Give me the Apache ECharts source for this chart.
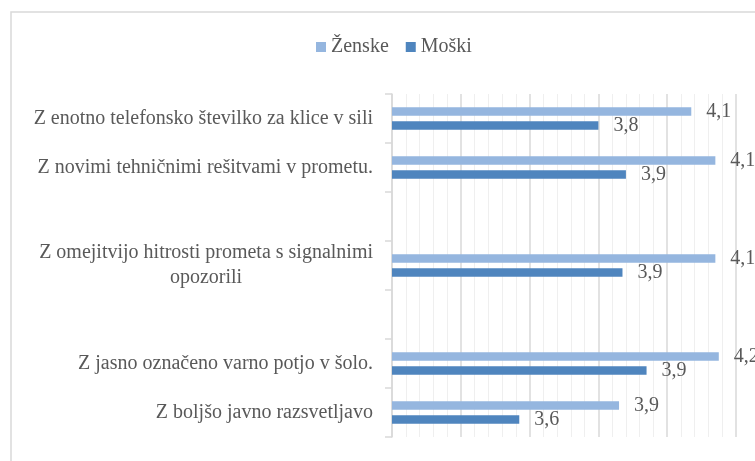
<!DOCTYPE html>
<html><head><meta charset="utf-8">
<script src="https://cdn.jsdelivr.net/npm/echarts@6/dist/echarts.min.js"></script>
<style>html,body{margin:0;padding:0;background:#fff}#c{width:755px;height:461px}</style>
</head><body><div id="c"></div>
<script>
const categories = [
  'Z enotno telefonsko številko za klice v sili',
  'Z novimi tehničnimi rešitvami v prometu.',
  '',
  'Z omejitvijo hitrosti prometa s signalnimi opozorili',
  '',
  'Z jasno označeno varno potjo v šolo.',
  'Z boljšo javno razsvetljavo'
];
const seriesNames = ['Ženske', 'Moški'];
const zenske = [4.07, 4.14, null, 4.14, null, 4.15, 3.86];
const moski = [3.80, 3.88, null, 3.87, null, 3.94, 3.57];

const FONT = '"Liberation Serif", "DejaVu Serif", serif';
const FS = 20;
const TXT = '#595959';
const MAXW = 365;

const ctx = document.createElement('canvas').getContext('2d');
ctx.font = FS + 'px ' + FONT;
function wrap(s) {
  if (ctx.measureText(s).width <= MAXW) return [s];
  const words = s.split(' ');
  const lines = [];
  let cur = '';
  words.forEach(w => {
    const t = cur ? cur + ' ' + w : w;
    if (ctx.measureText(t).width > MAXW && cur) { lines.push(cur); cur = w; }
    else cur = t;
  });
  if (cur) lines.push(cur);
  return lines;
}
let richW = 0;
categories.forEach(c => {
  const l = wrap(c);
  if (l.length > 1) l.forEach(x => { richW = Math.max(richW, ctx.measureText(x).width); });
});

const chart = echarts.init(document.getElementById('c'), null, {renderer: 'canvas'});
const fmt = v => (v == null ? '' : v.toFixed(1).replace('.', ','));

chart.setOption({
  animation: false,
  textStyle: {fontFamily: FONT},
  graphic: [{
    type: 'rect', left: 8.5, top: 9.5,
    shape: {x: 0, y: 0, width: 800, height: 500},
    style: {fill: 'none', stroke: '#d9d9d9', lineWidth: 1.5},
    silent: true
  }],
  legend: {
    data: seriesNames, top: 32, left: 311,
    icon: 'rect', itemWidth: 10, itemHeight: 10, itemGap: 17,
    textStyle: {fontSize: FS, color: TXT, fontFamily: FONT}
  },
  grid: {left: 392, right: 19, top: 94, bottom: 24, containLabel: false},
  xAxis: {
    type: 'value', min: 3.2, max: 4.2, interval: 0.2,
    axisLabel: {show: false}, axisLine: {show: false}, axisTick: {show: false},
    splitLine: {show: true, lineStyle: {color: '#d9d9d9', width: 1.5}},
    minorTick: {show: false, splitNumber: 5},
    minorSplitLine: {show: true, lineStyle: {color: '#efefef', width: 1}}
  },
  yAxis: {
    type: 'category', inverse: true, data: categories,
    axisLine: {show: true, lineStyle: {color: '#d9d9d9', width: 1.5}},
    axisTick: {show: true, length: 7, interval: 0, lineStyle: {color: '#d9d9d9', width: 1.5}},
    axisLabel: {
      interval: 0, margin: 19, fontSize: FS, color: TXT, fontFamily: FONT,
      formatter: function (v) {
        const l = wrap(v);
        if (l.length === 1) return v;
        return l.map(x => '{c|' + x + '}').join('\n');
      },
      rich: {c: {width: richW, align: 'center', fontSize: FS, color: TXT, fontFamily: FONT, lineHeight: 25}}
    }
  },
  series: [
    {
      name: seriesNames[0], type: 'bar', data: zenske,
      barWidth: 8.5, barGap: '67%',
      itemStyle: {color: '#95B6DF'},
      label: {show: true, position: 'right', distance: 15, fontSize: FS, color: TXT, fontFamily: FONT,
        formatter: p => fmt(p.value)}
    },
    {
      name: seriesNames[1], type: 'bar', data: moski,
      barWidth: 8.5, barGap: '67%',
      itemStyle: {color: '#4F85BE'},
      label: {show: true, position: 'right', distance: 15, fontSize: FS, color: TXT, fontFamily: FONT,
        formatter: p => fmt(p.value)}
    }
  ]
});
</script>
</body></html>
